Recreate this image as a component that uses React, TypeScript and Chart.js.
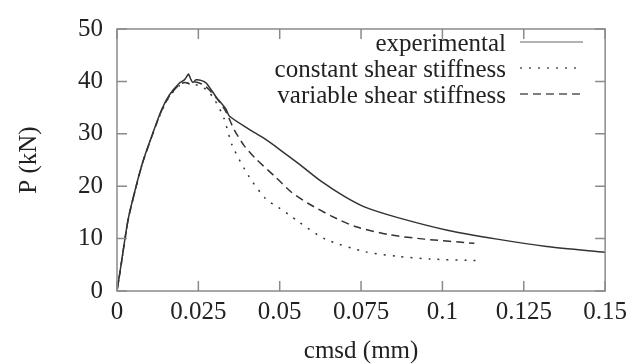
import React, { useEffect, useRef } from "react";
import { Chart, registerables } from "chart.js";

Chart.register(...registerables);

const xTicks = [0, 0.025, 0.05, 0.075, 0.1, 0.125, 0.15];
const xTickLabels = ["0", "0.025", "0.05", "0.075", "0.1", "0.125", "0.15"];
const yTicks = [0, 10, 20, 30, 40, 50];
const yTickLabels = ["0", "10", "20", "30", "40", "50"];

const seriesNames = ["experimental", "constant shear stiffness", "variable shear stiffness"];

const experimentalX = [0, 0.001, 0.0034, 0.0055, 0.0079, 0.011, 0.0137, 0.0162, 0.0192, 0.0207, 0.0215, 0.022, 0.0226, 0.0233, 0.0243, 0.0258, 0.0274, 0.0305, 0.0335, 0.0345, 0.0405, 0.045, 0.05, 0.0558, 0.0628, 0.07, 0.0762, 0.0863, 0.1015, 0.1168, 0.132, 0.15];
const experimentalY = [0, 4, 13.6, 19.1, 24.6, 30.1, 34.6, 37.5, 39.7, 40.3, 41.0, 41.4, 40.5, 39.8, 40.3, 40.2, 39.7, 37.0, 34.7, 33.4, 30.9, 29.2, 27.0, 24.3, 20.9, 18.0, 16.0, 14.0, 11.6, 9.9, 8.5, 7.4];

const constantX = [0, 0.001, 0.0034, 0.0055, 0.0079, 0.011, 0.0137, 0.0162, 0.0192, 0.021, 0.0225, 0.025, 0.0275, 0.03, 0.0329, 0.0354, 0.0405, 0.0457, 0.0497, 0.0537, 0.0558, 0.064, 0.0762, 0.0863, 0.0963, 0.1116];
const constantY = [0, 3.9, 13.4, 19.0, 24.5, 30.0, 34.3, 37.2, 39.2, 39.6, 39.6, 39.2, 38.4, 36.5, 32.9, 27.8, 21.9, 17.6, 15.9, 14.2, 13.2, 9.9, 7.5, 6.6, 6.1, 5.8];

const variableX = [0, 0.001, 0.0034, 0.0055, 0.0079, 0.011, 0.0137, 0.0162, 0.0192, 0.021, 0.0225, 0.024, 0.026, 0.028, 0.031, 0.0335, 0.036, 0.039, 0.0427, 0.0488, 0.0537, 0.0588, 0.0659, 0.0732, 0.0841, 0.0945, 0.1098];
const variableY = [0, 3.9, 13.5, 19.0, 24.5, 30.0, 34.4, 37.3, 39.4, 39.8, 39.5, 39.9, 39.5, 38.6, 36.5, 34.2, 30.8, 27.8, 25.2, 21.7, 18.8, 16.7, 14.3, 12.3, 10.7, 9.9, 9.1];

const toPoints = (xs: number[], ys: number[]) => xs.map((x, i) => ({ x, y: ys[i] }));

const FONT = "'Liberation Serif', 'DejaVu Serif', serif";
const AXIS_COLOR = "#8a8a8a";
const LINE_COLOR = "#333333";
const TEXT_COLOR = "#222222";
const dashes = [[], [2, 7], [8, 5]];

const framePlugin = {
  id: "framePlugin",
  afterDraw(chart: any) {
    const ctx = chart.ctx;
    const { left, right, top, bottom } = chart.chartArea;
    const xs = chart.scales.x;
    const ys = chart.scales.y;
    ctx.save();
    ctx.strokeStyle = AXIS_COLOR;
    ctx.lineWidth = 1.5;
    ctx.setLineDash([]);
    ctx.strokeRect(left, top, right - left, bottom - top);
    const tl = 10;
    ctx.beginPath();
    xTicks.forEach((v) => {
      const px = xs.getPixelForValue(v);
      ctx.moveTo(px, bottom);
      ctx.lineTo(px, bottom - tl);
      ctx.moveTo(px, top);
      ctx.lineTo(px, top + tl);
    });
    yTicks.forEach((v) => {
      const py = ys.getPixelForValue(v);
      ctx.moveTo(left, py);
      ctx.lineTo(left + tl, py);
      ctx.moveTo(right, py);
      ctx.lineTo(right - tl, py);
    });
    ctx.stroke();

    // axis titles
    ctx.fillStyle = TEXT_COLOR;
    ctx.font = `25px ${FONT}`;
    ctx.textAlign = "center";
    ctx.textBaseline = "middle";
    ctx.fillText("cmsd (mm)", (left + right) / 2, 351);
    ctx.save();
    ctx.translate(29, (top + bottom) / 2);
    ctx.rotate(-Math.PI / 2);
    ctx.fillText("P (kN)", 0, 0);
    ctx.restore();

    // legend
    const rowY = [44, 70, 96];
    const textRight = 506;
    const sx0 = 520;
    const sx1 = 583;
    ctx.textAlign = "right";
    ctx.textBaseline = "middle";
    seriesNames.forEach((name, i) => {
      ctx.fillStyle = TEXT_COLOR;
      ctx.fillText(name, textRight, rowY[i]);
      ctx.strokeStyle = i === 0 ? "#999999" : "#555555";
      ctx.lineWidth = 1.5;
      ctx.setLineDash(dashes[i]);
      ctx.beginPath();
      ctx.moveTo(sx0, rowY[i] - 2);
      ctx.lineTo(sx1, rowY[i] - 2);
      ctx.stroke();
    });
    ctx.restore();
  },
};

export default function App() {
  const canvasRef = useRef<HTMLCanvasElement | null>(null);

  useEffect(() => {
    document.body.style.margin = "0";
    const canvas = canvasRef.current;
    if (!canvas) return;
    const chart = new Chart(canvas, {
      type: "line",
      data: {
        datasets: [
          { label: seriesNames[0], data: toPoints(experimentalX, experimentalY) },
          { label: seriesNames[1], data: toPoints(constantX, constantY) },
          { label: seriesNames[2], data: toPoints(variableX, variableY) },
        ].map((d, i) => ({
          ...d,
          borderColor: LINE_COLOR,
          borderWidth: 1.5,
          borderDash: dashes[i],
          pointRadius: 0,
          tension: 0.25,
          fill: false,
        })),
      },
      options: {
        animation: false,
        responsive: false,
        maintainAspectRatio: false,
        layout: { padding: { top: 19, right: 24, left: 0, bottom: 0 } },
        plugins: { legend: { display: false }, tooltip: { enabled: false } },
        scales: {
          x: {
            type: "linear",
            min: 0,
            max: 0.15,
            afterBuildTicks: (s: any) => {
              s.ticks = xTicks.map((v) => ({ value: v }));
            },
            afterFit: (s: any) => {
              s.height = 73;
            },
            grid: { display: false, drawTicks: false },
            border: { display: false },
            ticks: {
              autoSkip: false,
              maxRotation: 0,
              padding: 6,
              color: TEXT_COLOR,
              font: { family: FONT, size: 25 },
              callback: (_v: any, i: number) => xTickLabels[i],
            },
          },
          y: {
            type: "linear",
            min: 0,
            max: 50,
            afterBuildTicks: (s: any) => {
              s.ticks = yTicks.map((v) => ({ value: v }));
            },
            afterFit: (s: any) => {
              s.width = 117;
            },
            grid: { display: false, drawTicks: false },
            border: { display: false },
            ticks: {
              autoSkip: false,
              padding: 14,
              color: TEXT_COLOR,
              font: { family: FONT, size: 25 },
              callback: (_v: any, i: number) => yTickLabels[i],
            },
          },
        },
      },
      plugins: [framePlugin],
    });
    return () => chart.destroy();
  }, []);

  return (
    <div style={{ position: "fixed", left: 0, top: 0, width: 633, height: 364, background: "#fff" }}>
      <canvas ref={canvasRef} width={633} height={364} style={{ width: 633, height: 364 }} />
    </div>
  );
}
